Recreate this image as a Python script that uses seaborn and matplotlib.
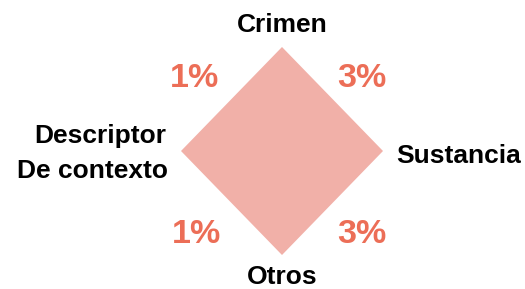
import numpy as np
import matplotlib
matplotlib.use("Agg")
import matplotlib.pyplot as plt
import seaborn as sns

# Data
categories = ["Crimen", "Sustancia", "Otros", "Descriptor\nDe contexto"]
values = [1.0, 1.0, 1.0, 1.0]  # equal reach on each axis
quadrant_labels = ["3%", "3%", "1%", "1%"]  # top-right, bottom-right, bottom-left, top-left

sns.set_theme(style="white")
plt.rcParams["font.family"] = ["Liberation Sans", "DejaVu Sans"]

fig = plt.figure(figsize=(5.25, 2.89), dpi=100)
ax = fig.add_axes([0, 0, 1, 1])
ax.set_axis_off()

# Axis directions: top, right, bottom, left
angles = np.array([np.pi / 2, 0.0, -np.pi / 2, np.pi])
vals = np.array(values)
xs = vals * np.cos(angles)
ys = vals * np.sin(angles)
ax.fill(xs, ys, color="#F1B0A8", lw=0)

# Scale: pixel center (282,151), 101 px / unit in x, 104 px / unit in y
ax.set_xlim(-282 / 101, 243 / 101)
ax.set_ylim(-(289 - 151) / 104, 151 / 104)

lab_kw = dict(fontsize=19, fontweight="bold", color="#000000")
ax.text(0, (151 - 32) / 104, categories[0], ha="center", va="baseline", **lab_kw)
ax.text((396 - 282) / 101, (151 - 163) / 104, categories[1], ha="left", va="baseline", **lab_kw)
ax.text(0, (151 - 284) / 104, categories[2], ha="center", va="baseline", **lab_kw)
left_lines = categories[3].split("\n")
ax.text((166 - 282) / 101, (151 - 143) / 104, left_lines[0], ha="right", va="baseline", **lab_kw)
ax.text((168 - 282) / 101, (151 - 178) / 104, left_lines[1], ha="right", va="baseline", **lab_kw)

pct_kw = dict(fontsize=24.5, fontweight="bold", color="#EC6E57", ha="center", va="baseline")
pct_pos = [((362 - 282) / 101, (151 - 87) / 104),
           ((362 - 282) / 101, (151 - 243) / 104),
           ((197 - 282) / 101, (151 - 243) / 104),
           ((194 - 282) / 101, (151 - 87) / 104)]
for (px, py), lab in zip(pct_pos, quadrant_labels):
    ax.text(px, py, lab, **pct_kw)

fig.savefig("out.png", dpi=100)
